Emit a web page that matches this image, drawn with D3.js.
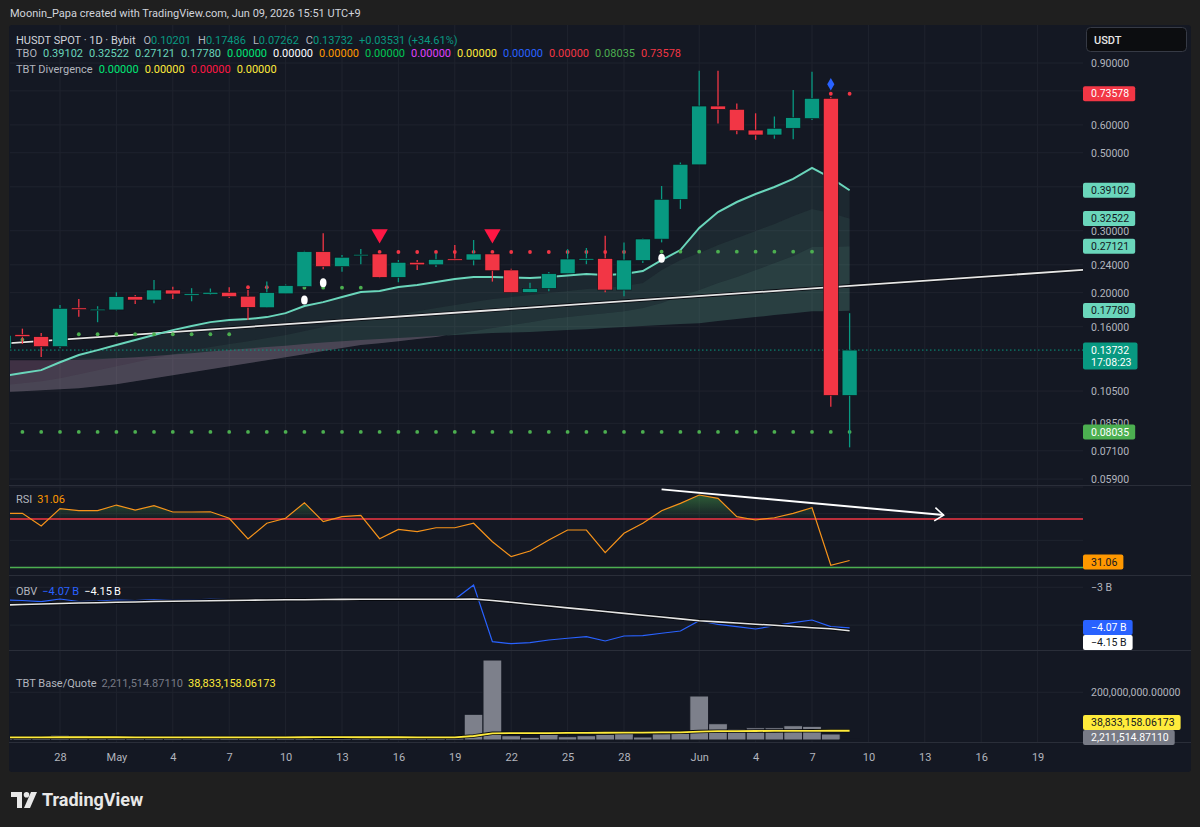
<!DOCTYPE html>
<html lang="en">
<head>
<meta charset="utf-8">
<script src="https://d3js.org/d3.v7.min.js"></script>
<style>
body { margin: 0; background: #1f1f1f; }
text { font-family: Roboto, "Noto Sans", sans-serif; }
</style>
</head>
<body>
<script>
// ---- data ----
const days = [
  "2026-04-25","2026-04-26","2026-04-27","2026-04-28","2026-04-29","2026-04-30",
  "2026-05-01","2026-05-02","2026-05-03","2026-05-04","2026-05-05","2026-05-06","2026-05-07","2026-05-08",
  "2026-05-09","2026-05-10","2026-05-11","2026-05-12","2026-05-13","2026-05-14","2026-05-15","2026-05-16",
  "2026-05-17","2026-05-18","2026-05-19","2026-05-20","2026-05-21","2026-05-22","2026-05-23","2026-05-24",
  "2026-05-25","2026-05-26","2026-05-27","2026-05-28","2026-05-29","2026-05-30","2026-05-31",
  "2026-06-01","2026-06-02","2026-06-03","2026-06-04","2026-06-05","2026-06-06","2026-06-07","2026-06-08","2026-06-09"
];
const open  = [0.1385,0.1520,0.1499,0.1404,0.1810,0.1780,0.1786,0.1948,0.1906,0.2035,0.1970,0.1980,0.2005,0.1954,0.1812,0.1985,0.2080,0.2615,0.2371,0.2550,0.2577,0.2211,0.2440,0.2400,0.2495,0.2477,0.2577,0.2320,0.2000,0.2055,0.2264,0.2485,0.2500,0.2035,0.2470,0.2840,0.3686,0.4620,0.6790,0.6646,0.5800,0.5617,0.5870,0.6250,0.7140,0.10201];
const high  = [0.1530,0.1580,0.1536,0.1845,0.1919,0.1830,0.2005,0.1970,0.2172,0.2080,0.2060,0.2055,0.2072,0.2035,0.2150,0.2110,0.2630,0.2950,0.2560,0.2662,0.2580,0.2477,0.2477,0.2585,0.2733,0.2824,0.2580,0.2340,0.2134,0.2290,0.2660,0.2680,0.2904,0.2780,0.2850,0.4022,0.4690,0.8557,0.8560,0.6900,0.6474,0.6340,0.7540,0.8500,0.7200,0.17486];
const low   = [0.1360,0.1430,0.1312,0.1390,0.1709,0.1648,0.1780,0.1857,0.1865,0.1919,0.1890,0.1970,0.1930,0.1672,0.1810,0.1985,0.2070,0.2331,0.2295,0.2408,0.2200,0.2141,0.2320,0.2365,0.2470,0.2392,0.2150,0.2000,0.2000,0.2020,0.2264,0.2410,0.2005,0.1954,0.2430,0.2780,0.3460,0.4620,0.6060,0.5640,0.5443,0.5480,0.5460,0.6200,0.0948,0.07262];
const close = [0.1513,0.1500,0.1404,0.1805,0.1790,0.1795,0.1948,0.1906,0.2035,0.1983,0.1985,0.2005,0.1948,0.1817,0.2000,0.2094,0.2615,0.2371,0.2522,0.2570,0.2211,0.2440,0.2400,0.2485,0.2485,0.2577,0.2309,0.2000,0.2055,0.2264,0.2493,0.2500,0.2035,0.2477,0.2842,0.3686,0.4636,0.6790,0.6646,0.5777,0.5617,0.5869,0.6290,0.7140,0.10201,0.13732];

// TBO lines (fast, mid, mid-slow, slow)
const tboFast = [0.1158,0.1181,0.1204,0.1268,0.1329,0.1373,0.1419,0.1466,0.1515,0.1565,0.1607,0.1649,0.1671,0.1682,0.1704,0.1749,0.1832,0.1880,0.1943,0.2008,0.2021,0.2075,0.2102,0.2144,0.2186,0.2215,0.2215,0.2208,0.2201,0.2215,0.2237,0.2259,0.2244,0.2259,0.2304,0.2476,0.2644,0.3055,0.3392,0.3621,0.3817,0.3995,0.4211,0.4526,0.4239,0.39102];
const tboMid  = [0.1091,0.1105,0.1120,0.1142,0.1173,0.1204,0.1235,0.1268,0.1302,0.1337,0.1373,0.1400,0.1428,0.1456,0.1485,0.1515,0.1555,0.1596,0.1638,0.1671,0.1704,0.1738,0.1772,0.1808,0.1844,0.1880,0.1918,0.1943,0.1968,0.1994,0.2021,0.2047,0.2061,0.2088,0.2130,0.2319,0.2476,0.2593,0.2732,0.2861,0.2995,0.3136,0.3305,0.3460,0.3370,0.32522];
const tboMidSlow = [0.1042,0.1049,0.1056,0.1063,0.1070,0.1084,0.1098,0.1120,0.1142,0.1165,0.1188,0.1212,0.1235,0.1260,0.1285,0.1311,0.1337,0.1364,0.1391,0.1419,0.1437,0.1456,0.1476,0.1495,0.1525,0.1555,0.1586,0.1617,0.1649,0.1682,0.1704,0.1727,0.1749,0.1772,0.1808,0.1868,0.1956,0.2034,0.2130,0.2215,0.2319,0.2428,0.2542,0.2696,0.2696,0.27121];
const tboSlow = [0.1285,0.1285,0.1285,0.1285,0.1289,0.1293,0.1302,0.1311,0.1320,0.1333,0.1346,0.1360,0.1373,0.1387,0.1400,0.1413,0.1428,0.1442,0.1456,0.1466,0.1476,0.1485,0.1495,0.1505,0.1515,0.1525,0.1535,0.1540,0.1545,0.1555,0.1565,0.1575,0.1586,0.1596,0.1607,0.1617,0.1628,0.1638,0.1660,0.1682,0.1704,0.1727,0.1749,0.1772,0.1772,0.1778];

// TBO dot plots: [from, to, level]
const greenDotRuns = [["2026-04-26","2026-04-26",0.147],["2026-04-29","2026-05-07",0.1523],["2026-05-11","2026-05-14",0.2066],["2026-05-30","2026-06-07",0.2616]];
const redDotRuns   = [["2026-05-08","2026-05-09",0.2072],["2026-05-15","2026-05-28",0.2610],["2026-06-08","2026-06-09",0.73578]];
const supportRun   = ["2026-04-25","2026-06-09",0.08035];
const sellSignals  = [["2026-05-15",0.2937],["2026-05-21",0.2937]];
const whiteMarks   = [["2026-05-11",0.1906],["2026-05-12",0.2135],["2026-05-30",0.2505]];
const blueMarks    = [["2026-06-08",0.7828]];
const trendPts     = [["2026-04-26",0.1446],["2026-06-19",0.2274]];
const tboZeros     = [0,0,0,0,0,0,0,0];
const tbtDiv       = [0,0,0,0];

const rsi = [75.3,75.3,63.4,79.7,77.8,77.8,83.1,78.4,82.5,76.6,76.6,76.8,70.7,51.3,66.0,70.7,85.3,67.5,72.2,73.5,51.5,60.3,58.1,61.8,61.8,66.0,48.7,34.7,40.0,50.3,59.7,59.7,38.4,56.6,66.0,77.8,84.7,92.5,89.4,72.2,69.1,71.2,75.3,80.6,26.6,31.06];
const rsiLevels = [70, 24.5];
const rsiArrow = [["2026-05-30",97.8],["2026-06-14",73.7]];

// OBV in billions
const obv = [-3.336,-3.349,-3.380,-3.309,-3.375,-3.362,-3.336,-3.349,-3.322,-3.343,-3.330,-3.317,-3.325,-3.343,-3.322,-3.317,-3.309,-3.325,-3.317,-3.317,-3.322,-3.322,-3.317,-3.317,-3.317,-2.939,-4.437,-4.490,-4.464,-4.392,-4.347,-4.305,-4.419,-4.287,-4.279,-4.215,-4.155,-3.882,-3.978,-4.041,-4.102,-4.015,-3.935,-3.864,-4.041,-4.07];
const obvMa = [-3.468,-3.454,-3.441,-3.428,-3.415,-3.407,-3.396,-3.388,-3.375,-3.367,-3.362,-3.354,-3.349,-3.341,-3.336,-3.330,-3.328,-3.322,-3.320,-3.317,-3.317,-3.317,-3.317,-3.317,-3.317,-3.309,-3.349,-3.396,-3.447,-3.494,-3.544,-3.591,-3.639,-3.690,-3.737,-3.785,-3.835,-3.882,-3.914,-3.943,-3.975,-4.004,-4.036,-4.067,-4.096,-4.15];

// TBT base / quote, in millions
const baseVol = [8,7,9,21,20,8,9,7,8,7,6,6,7,10,9,8,18,16,8,7,10,9,7,8,9,107.8,335.4,18.0,11.3,23.9,13.8,18.0,23.9,34.8,12.6,26.4,29.4,184.5,68.3,46.1,51.6,51.6,60.0,57.4,25.2,2.2115148711];
const quoteMa = [11.0,11.0,11.2,11.5,11.6,11.6,11.5,11.4,11.4,11.3,11.2,11.2,11.1,11.3,11.3,11.2,11.6,11.8,11.7,11.6,11.6,11.5,11.4,11.3,11.4,16.8,28.1,28.5,28.8,29.2,29.5,29.9,30.3,30.8,31.1,31.6,32.3,35.5,37.0,37.4,37.7,38.0,38.3,38.6,38.7,38.83315806173];

const dateTicks = ["2026-04-28","2026-05-01","2026-05-04","2026-05-07","2026-05-10","2026-05-13","2026-05-16","2026-05-19","2026-05-22","2026-05-25","2026-05-28","2026-06-01","2026-06-04","2026-06-07","2026-06-10","2026-06-13","2026-06-16","2026-06-19"];
const priceGrid = [0.9,0.75,0.6,0.5,0.4,0.3,0.24,0.2,0.16,0.13,0.105,0.085,0.071,0.059];
const priceLabels = [0.9,0.6,0.5,0.3,0.24,0.2,0.16,0.105,0.085,0.071,0.059];
const rsiTicks = [100,75,50,25];
const obvTicks = [-3,-4];
const volTicks = [200];

// ---- layout ----
const parse = d3.utcParse("%Y-%m-%d");
const L = 10, R = 1083;
const P = {price:[25,485], rsi:[485,575], obv:[575,650], vol:[650,742]};
const GREEN = "#089981", RED = "#f23645", TEAL = "#6ad6bb", GRID = "#1f232e";
const last = days.length - 1;
const fmt5 = d3.format(".5f");
const fmtBig = v => d3.format(",.5f")(Math.round(v * 1e11) / 1e5);

const x = d3.scaleUtc().domain([parse(days[0]), parse(days[last])]).range([3.6, 849.6]);
const yP = d3.scaleLog().domain([0.05675, 1.1543]).range([P.price[1], P.price[0]]);
const yR = d3.scaleLinear().domain([17.5, 101.9]).range([P.rsi[1], P.rsi[0]]);
const yO = d3.scaleLinear().domain([-4.657, -2.675]).range([P.obv[1], P.obv[0]]);
const yV = d3.scaleLinear().domain([-8.4, 377.4]).range([P.vol[1], P.vol[0]]);
const xd = d => x(parse(d));

const svg = d3.select("body").append("svg").attr("width", 1200).attr("height", 827);
svg.append("rect").attr("width", 1200).attr("height", 827).attr("fill", "#1f1f1f");
svg.append("rect").attr("x", 9).attr("y", 25).attr("width", 1182).attr("height", 747).attr("rx", 3).attr("fill", "#141823");

const defs = svg.append("defs");
function clip(id, x0, y0, x1, y1) {
  defs.append("clipPath").attr("id", id).append("rect").attr("x", x0).attr("y", y0).attr("width", x1 - x0).attr("height", y1 - y0);
  return "url(#" + id + ")";
}
const cPrice = clip("cp", L, P.price[0], R, P.price[1]);
const cRsi = clip("cr", L, P.rsi[0], R, P.rsi[1]);
const cObv = clip("co", L, P.obv[0], R, P.obv[1]);
const cVol = clip("cv", L, P.vol[0], R, P.vol[1]);
const cRsiTop = clip("crt", L, P.rsi[0], R, yR(70));
const cRsiAx = clip("cra", R, P.rsi[0], 1190, P.rsi[1]);

// grid
svg.append("g").selectAll("line").data(dateTicks).join("line")
  .attr("x1", d => xd(d)).attr("x2", d => xd(d)).attr("y1", 25).attr("y2", 742)
  .attr("stroke", GRID);
function hgrid(vals, y) {
  svg.append("g").selectAll("line").data(vals).join("line")
    .attr("x1", L).attr("x2", R).attr("y1", d => y(d)).attr("y2", d => y(d)).attr("stroke", GRID);
}
hgrid(priceGrid, yP); hgrid(rsiTicks, yR); hgrid(obvTicks, yO); hgrid(volTicks, yV);

// pane separators
svg.append("g").selectAll("line").data([485, 575, 650, 742]).join("line")
  .attr("x1", 9).attr("x2", 1191).attr("y1", d => d + 0.5).attr("y2", d => d + 0.5).attr("stroke", "#2a2e39");

// ---- price pane ----
const gp = svg.append("g").attr("clip-path", cPrice);

// TBO bands, colour flips where the pair crosses
function bandRuns(a, b) {
  const pts = days.map((d, i) => ({x: xd(d), ya: yP(a[i]), yb: yP(b[i])}));
  const runs = [];
  let cur = {up: pts[0].ya <= pts[0].yb, pts: [pts[0]]};
  for (let i = 1; i < pts.length; i++) {
    const p = pts[i], up = p.ya <= p.yb;
    if (up !== cur.up) {
      const p0 = pts[i - 1], d0 = p0.ya - p0.yb, d1 = p.ya - p.yb, t = d0 / (d0 - d1);
      const c = {x: p0.x + t * (p.x - p0.x), ya: p0.ya + t * (p.ya - p0.ya)};
      c.yb = c.ya;
      cur.pts.push(c); runs.push(cur);
      cur = {up: up, pts: [c, p]};
    } else cur.pts.push(p);
  }
  runs.push(cur);
  return runs;
}
const area = d3.area().x(p => p.x).y0(p => p.ya).y1(p => p.yb);
[[tboFast, tboMid, 0.10], [tboMid, tboMidSlow, 0.16], [tboMidSlow, tboSlow, 0.24]].forEach(([a, b, op]) => {
  bandRuns(a, b).forEach(r => {
    gp.append("path").attr("d", area(r.pts))
      .attr("fill", r.up ? `rgba(110,190,165,${op})` : "rgba(200,130,175,0.24)");
  });
});

// current price dotted line
gp.append("line").attr("x1", L).attr("x2", R).attr("y1", yP(close[last])).attr("y2", yP(close[last]))
  .attr("stroke", GREEN).attr("stroke-dasharray", "1.5,2.5");

// trend line (ray)
const tp = trendPts.map(d => [xd(d[0]), yP(d[1])]);
const slope = (tp[1][1] - tp[0][1]) / (tp[1][0] - tp[0][0]);
const tline = [[L, tp[0][1] + slope * (L - tp[0][0])], [R, tp[0][1] + slope * (R - tp[0][0])]];
gp.append("path").attr("d", d3.line()(tline)).attr("stroke", "#0a0c12").attr("stroke-width", 3.5).attr("fill", "none");
gp.append("path").attr("d", d3.line()(tline)).attr("stroke", "#e6e6e6").attr("stroke-width", 1.8).attr("fill", "none");

// TBO fast line
gp.append("path").datum(tboFast)
  .attr("d", d3.line().x((d, i) => xd(days[i])).y(d => yP(d)))
  .attr("fill", "none").attr("stroke", TEAL).attr("stroke-width", 2);

// dots
function runDays(r) { return d3.utcDay.range(parse(r[0]), d3.utcDay.offset(parse(r[1]), 1)).map(d => ({d: d, v: r[2]})); }
const gDots = [].concat(...greenDotRuns.map(runDays), runDays(supportRun));
const rDots = [].concat(...redDotRuns.map(runDays));
gp.append("g").selectAll("circle").data(gDots).join("circle")
  .attr("cx", d => x(d.d)).attr("cy", d => yP(d.v)).attr("r", 1.9).attr("fill", "#4caf50");
gp.append("g").selectAll("circle").data(rDots).join("circle")
  .attr("cx", d => x(d.d)).attr("cy", d => yP(d.v)).attr("r", 1.9).attr("fill", RED);

// candles
const candles = days.map((d, i) => ({d: d, o: open[i], h: high[i], l: low[i], c: close[i]}));
const gc = gp.append("g");
gc.selectAll("line").data(candles).join("line")
  .attr("x1", d => xd(d.d)).attr("x2", d => xd(d.d))
  .attr("y1", d => yP(d.h)).attr("y2", d => yP(d.l))
  .attr("stroke", d => d.c >= d.o ? GREEN : RED).attr("stroke-width", 1.3);
gc.selectAll("rect").data(candles).join("rect")
  .attr("x", d => xd(d.d) - 7.5).attr("width", 15)
  .attr("y", d => yP(Math.max(d.o, d.c)))
  .attr("height", d => Math.max(1.5, Math.abs(yP(d.o) - yP(d.c))))
  .attr("fill", d => d.c >= d.o ? GREEN : RED)
  .attr("stroke", "#0d1017").attr("stroke-width", 0.6);

// signals
gp.append("g").selectAll("path").data(sellSignals).join("path")
  .attr("d", d3.symbol(d3.symbolTriangle, 115))
  .attr("transform", d => `translate(${xd(d[0])},${yP(d[1])}) rotate(180)`)
  .attr("fill", "#ff1744");
gp.append("g").selectAll("path").data(blueMarks).join("path")
  .attr("d", d3.symbol(d3.symbolDiamond, 45))
  .attr("transform", d => `translate(${xd(d[0])},${yP(d[1])})`)
  .attr("fill", "#2962ff");
gp.append("g").selectAll("ellipse").data(whiteMarks).join("ellipse")
  .attr("cx", d => xd(d[0])).attr("cy", d => yP(d[1])).attr("rx", 3.3).attr("ry", 4.5).attr("fill", "#ffffff");

// ---- RSI pane ----
const gr = svg.append("g").attr("clip-path", cRsi);
const grad = defs.append("linearGradient").attr("id", "rsiFill").attr("gradientUnits", "userSpaceOnUse")
  .attr("x1", 0).attr("x2", 0).attr("y1", yR(100)).attr("y2", yR(70));
grad.append("stop").attr("offset", 0).attr("stop-color", "#4caf50").attr("stop-opacity", 0.6);
grad.append("stop").attr("offset", 1).attr("stop-color", "#4caf50").attr("stop-opacity", 0.02);
gr.append("path").datum(rsi).attr("clip-path", cRsiTop)
  .attr("d", d3.area().x((d, i) => xd(days[i])).y0(yR(70)).y1(d => yR(d)))
  .attr("fill", "url(#rsiFill)");
gr.append("line").attr("x1", L).attr("x2", R).attr("y1", yR(rsiLevels[0])).attr("y2", yR(rsiLevels[0]))
  .attr("stroke", RED).attr("stroke-width", 1.6);
gr.append("line").attr("x1", L).attr("x2", R).attr("y1", yR(rsiLevels[1])).attr("y2", yR(rsiLevels[1]))
  .attr("stroke", "#4caf50").attr("stroke-width", 1.6);
gr.append("path").datum(rsi)
  .attr("d", d3.line().x((d, i) => xd(days[i])).y(d => yR(d)))
  .attr("fill", "none").attr("stroke", "#f7931a").attr("stroke-width", 1.2);
// divergence arrow
const ar = rsiArrow.map(d => [xd(d[0]), yR(d[1])]);
const ang = Math.atan2(ar[1][1] - ar[0][1], ar[1][0] - ar[0][0]);
const head = [ang + 2.5, ang - 2.5].map(a => [ar[1][0] + 11 * Math.cos(a), ar[1][1] + 11 * Math.sin(a)]);
svg.append("path").attr("d", d3.line()(ar)).attr("stroke", "#ffffff").attr("stroke-width", 2).attr("fill", "none");
svg.append("path").attr("d", d3.line()([head[0], ar[1], head[1]])).attr("stroke", "#ffffff").attr("stroke-width", 1.6).attr("fill", "none");

// ---- OBV pane ----
const go = svg.append("g").attr("clip-path", cObv);
const obvLine = d3.line().x((d, i) => xd(days[i])).y(d => yO(d));
go.append("path").datum(obv).attr("d", obvLine).attr("fill", "none").attr("stroke", "#2962ff").attr("stroke-width", 1.2);
go.append("path").datum(obvMa).attr("d", obvLine).attr("fill", "none").attr("stroke", "#07090e").attr("stroke-width", 3.4);
go.append("path").datum(obvMa).attr("d", obvLine).attr("fill", "none").attr("stroke", "#e4e4e4").attr("stroke-width", 1.6);

// ---- TBT base/quote pane ----
const gv = svg.append("g").attr("clip-path", cVol);
gv.selectAll("rect").data(baseVol).join("rect")
  .attr("x", (d, i) => xd(days[i]) - 9.4).attr("width", 18.8)
  .attr("y", d => yV(d)).attr("height", d => yV(0) - yV(d))
  .attr("fill", "#7d808b").attr("stroke", "#141823").attr("stroke-width", 1);
const qLine = d3.line().x((d, i) => xd(days[i])).y(d => yV(d));
gv.append("path").datum(quoteMa).attr("d", qLine).attr("fill", "none").attr("stroke", "#07090e").attr("stroke-width", 3.4);
gv.append("path").datum(quoteMa).attr("d", qLine).attr("fill", "none").attr("stroke", "#ffeb3b").attr("stroke-width", 1.8);

// ---- axes ----
function styleAxis(g, size) {
  g.select(".domain").remove();
  g.attr("font-family", "Roboto, 'Noto Sans', sans-serif").attr("font-size", size);
  g.selectAll("text").attr("fill", "#b2b5be");
}
svg.append("g").attr("transform", `translate(${R},0)`)
  .call(d3.axisRight(yP).tickValues(priceLabels).tickFormat(fmt5).tickSize(0).tickPadding(8))
  .call(g => styleAxis(g, 10.5));
svg.append("g").attr("transform", `translate(${R},0)`).attr("clip-path", cRsiAx)
  .call(d3.axisRight(yR).tickValues(rsiTicks).tickFormat(d3.format(".2f")).tickSize(0).tickPadding(8))
  .call(g => styleAxis(g, 10.5));
svg.append("g").attr("transform", `translate(${R},0)`)
  .call(d3.axisRight(yO).tickValues([-3]).tickFormat(d => "\u2212" + Math.abs(d) + " B").tickSize(0).tickPadding(8))
  .call(g => styleAxis(g, 10.5));
svg.append("g").attr("transform", `translate(${R},0)`)
  .call(d3.axisRight(yV).tickValues(volTicks).tickFormat(d => d3.format(",.5f")(d * 1e6)).tickSize(0).tickPadding(8))
  .call(g => styleAxis(g, 10.5));
const monthFmt = d3.utcFormat("%b"), dayFmt = d3.utcFormat("%-d");
svg.append("g").attr("transform", "translate(0,742)")
  .call(d3.axisBottom(x).tickValues(dateTicks.map(parse))
    .tickFormat(d => d.getUTCDate() === 1 ? monthFmt(d) : dayFmt(d)).tickSize(0).tickPadding(11))
  .call(g => styleAxis(g, 11));

// value tags on the right scale
function tag(yc, lines, bg, fg, bold) {
  const g = svg.append("g");
  const h = 15 + (lines.length - 1) * 12;
  const r = g.append("rect").attr("x", R).attr("y", yc - 7.5).attr("height", h).attr("rx", 2).attr("fill", bg);
  let w = 0;
  lines.forEach((s, k) => {
    const t = g.append("text").attr("x", R + 8).attr("y", yc + k * 12).attr("dy", "0.35em")
      .attr("fill", fg).attr("font-size", 10.5).attr("font-weight", bold ? 500 : 400).text(s);
    w = Math.max(w, t.node().getComputedTextLength());
  });
  r.attr("width", w + 14);
}
tag(yP(0.73578), [fmt5(0.73578)], RED, "#ffffff");
tag(yP(tboFast[last]), [fmt5(tboFast[last])], TEAL, "#131722");
tag(yP(tboMid[last]), [fmt5(tboMid[last])], TEAL, "#131722");
tag(yP(tboMidSlow[last]), [fmt5(tboMidSlow[last])], TEAL, "#131722");
tag(yP(tboSlow[last]), [fmt5(tboSlow[last])], TEAL, "#131722");
tag(yP(close[last]), [fmt5(close[last]), "17:08:23"], GREEN, "#ffffff");
tag(yP(supportRun[2]), [fmt5(supportRun[2])], "#4caf50", "#ffffff");
tag(yR(rsi[last]) + 1.5, [rsi[last].toFixed(2)], "#ff9800", "#131722");
tag(627.5, ["\u22124.07 B"], "#2962ff", "#ffffff");
tag(642.5, ["\u22124.15 B"], "#ffffff", "#131722");
tag(722.5, [fmtBig(quoteMa[last])], "#ffeb3b", "#131722");
tag(737.5, [fmtBig(baseVol[last])], "#787b86", "#ffffff");

// currency box
svg.append("rect").attr("x", 1086.5).attr("y", 27.5).attr("width", 100).attr("height", 24).attr("rx", 4)
  .attr("fill", "#0c0d10").attr("stroke", "#363a45");
svg.append("text").attr("x", 1094).attr("y", 40).attr("dy", "0.35em").attr("fill", "#e6e6e6")
  .attr("font-size", 11).attr("font-weight", 500).text("USDT");

// ---- legends ----
function legend(x0, y0, parts) {
  const t = svg.append("text").attr("x", x0).attr("y", y0).attr("dy", "0.35em").attr("font-size", 11);
  parts.forEach(p => t.append("tspan").attr("fill", p[1]).attr("dx", p[2] || 0).text(p[0]));
}
const G1 = "#b2b5be";
const chg = close[last] - open[last];
legend(16, 40, [["HUSDT SPOT \u00b7 1D \u00b7 Bybit", "#d1d4dc"], ["O", G1, 8], [fmt5(open[last]), GREEN],
  ["H", G1, 7], [fmt5(high[last]), GREEN], ["L", G1, 7], [fmt5(low[last]), GREEN],
  ["C", G1, 7], [fmt5(close[last]), GREEN],
  ["+" + fmt5(chg) + " (+" + (chg / open[last] * 100).toFixed(2) + "%)", GREEN, 6]]);
const tboVals = [tboFast[last], tboMid[last], tboMidSlow[last], tboSlow[last]].concat(tboZeros, [supportRun[2], 0.73578]);
const tboCols = [TEAL, TEAL, TEAL, TEAL, "#00e676", "#ffffff", "#ff9800", "#00c853", "#e040fb", "#ffeb3b", "#2962ff", RED, "#4caf50", RED];
legend(16, 53, [["TBO", G1]].concat(tboVals.map((v, i) => [fmt5(v), tboCols[i], 6])));
const divCols = ["#00e676", "#ffeb3b", "#ff1744", "#ffeb3b"];
legend(16, 69, [["TBT Divergence", G1]].concat(tbtDiv.map((v, i) => [fmt5(v), divCols[i], 6])));
legend(16, 499, [["RSI", G1], [rsi[last].toFixed(2), "#ff9800", 5]]);
legend(16, 591, [["OBV", G1], ["\u22124.07\u2009B", "#2962ff", 5], ["\u22124.15\u2009B", "#ffffff", 5]]);
legend(16, 683, [["TBT Base/Quote", G1], [fmtBig(baseVol[last]), "#787b86", 5],
  [fmtBig(quoteMa[last]), "#ffeb3b", 5]]);

// header / footer
svg.append("text").attr("x", 10).attr("y", 13).attr("dy", "0.35em").attr("font-size", 11)
  .attr("fill", "#d1d4dc").text("Moonin_Papa created with TradingView.com, Jun 09, 2026 15:51 UTC+9");
const logo = svg.append("g").attr("transform", "translate(11,792)").attr("fill", "#e8e8e8");
logo.append("path").attr("d", "M0,0 H11 V16 H6 V5 H0 Z");
logo.append("circle").attr("cx", 15.5).attr("cy", 2.8).attr("r", 2.8);
logo.append("path").attr("d", "M20,0 H26 L19,16 H13 Z");
svg.append("text").attr("x", 42).attr("y", 800).attr("dy", "0.35em").attr("font-size", 18)
  .attr("font-weight", 700).attr("fill", "#e8e8e8").text("TradingView");
</script>
</body>
</html>
